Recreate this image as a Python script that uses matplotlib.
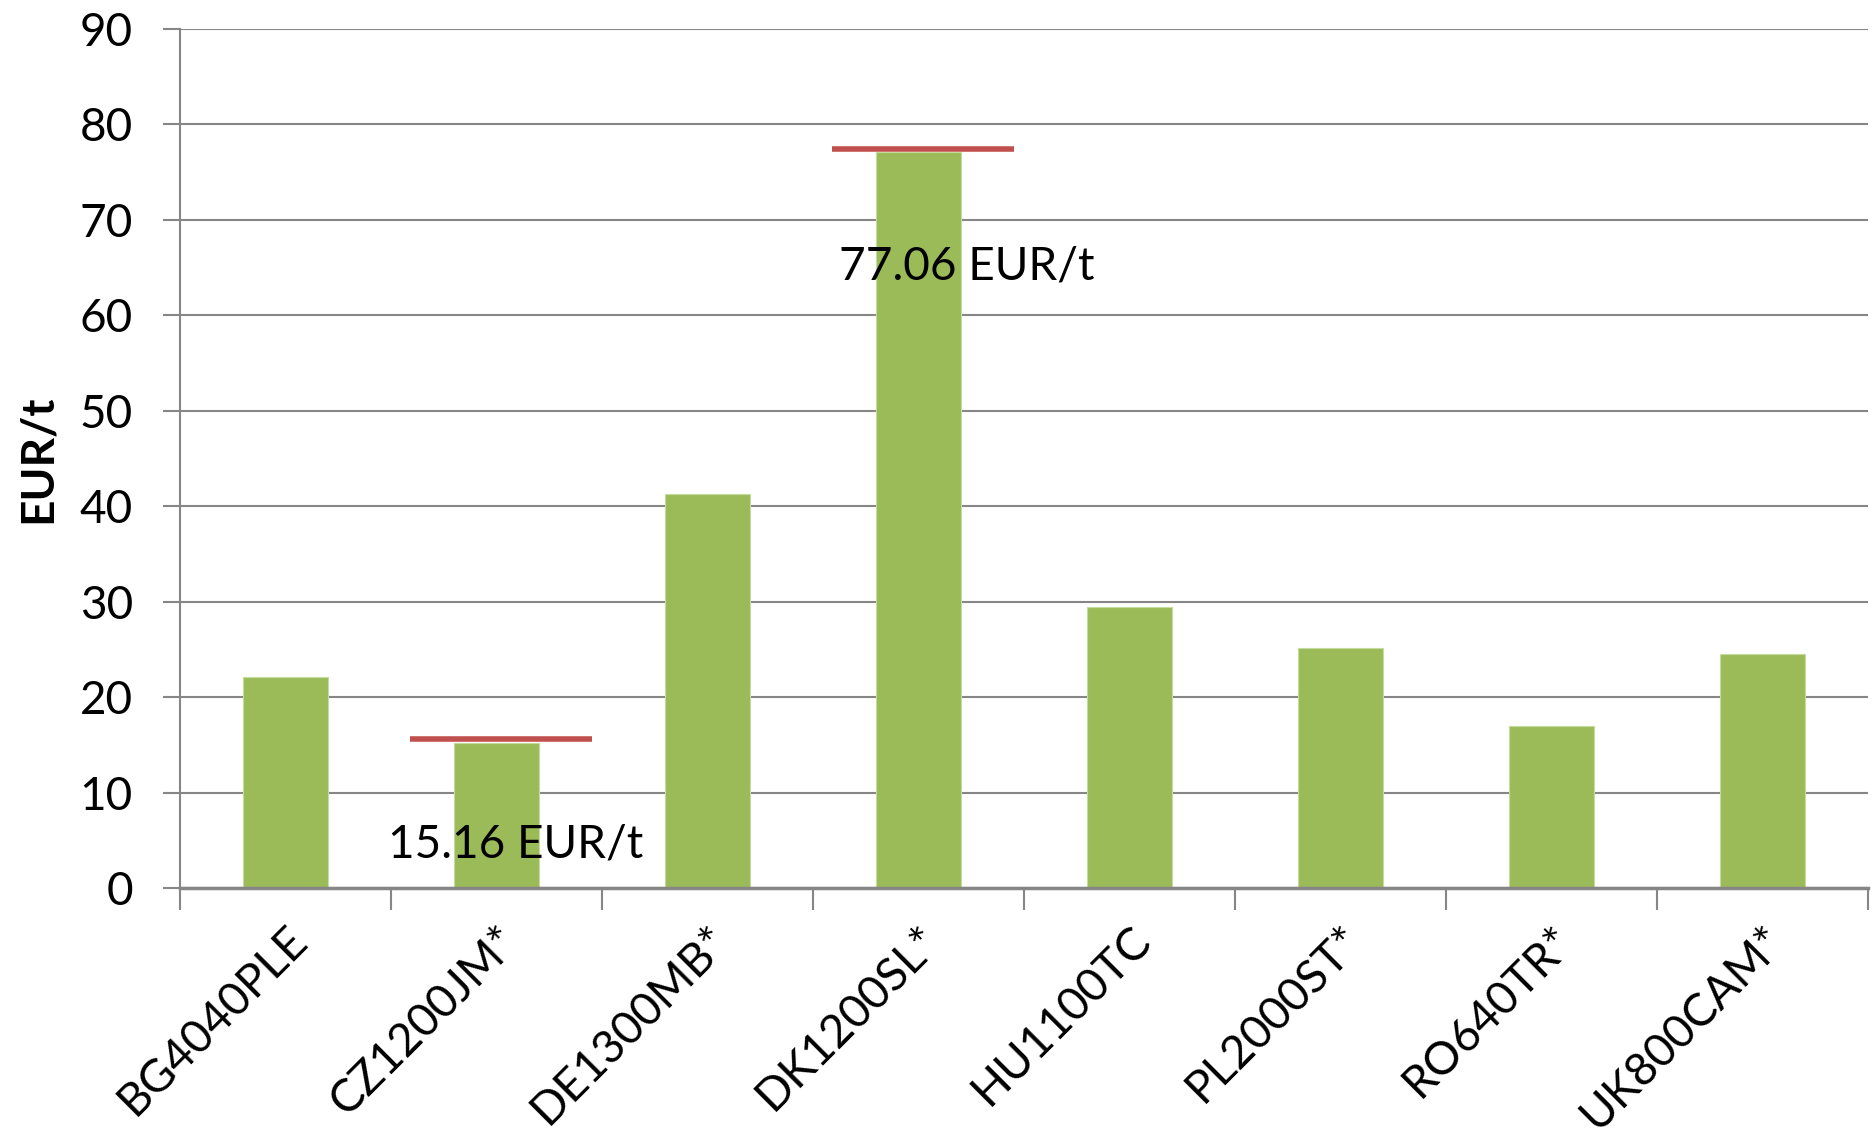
import matplotlib.pyplot as plt
import numpy as np

plt.rcParams["font.family"] = ["Lato", "DejaVu Sans"]

categories = ["BG4040PLE", "CZ1200JM*", "DE1300MB*", "DK1200SL*",
              "HU1100TC", "PL2000ST*", "RO640TR*", "UK800CAM*"]
values = [22.1, 15.16, 41.25, 77.06, 29.4, 25.1, 17.0, 24.5]

# red reference marks (category index, level, label)
ref_idx = [1, 3]
ref_levels = [15.6, 77.35]
ref_labels = ["15.16 EUR/t", "77.06 EUR/t"]
label_y = [4.6, 65.1]
label_dx = [0.09, 0.23]

yticks = list(range(0, 100, 10))

GREEN = "#9BBB59"
RED = "#C0504D"
GRID = "#868686"


def main():
    fig = plt.figure(figsize=(18.72, 11.48), dpi=100)
    ax = fig.add_axes([0.0962, 0.2265, 0.9017, 0.7485])

    x = np.arange(len(categories))
    ax.bar(x, values, width=0.4, color=GREEN, edgecolor="#C6DBA0",
           linewidth=0.8, zorder=2)

    for i, lvl in zip(ref_idx, ref_levels):
        ax.hlines(lvl, i - 0.41, i + 0.45, color=RED, linewidth=4, zorder=3)

    for i, txt, ty, dx in zip(ref_idx, ref_labels, label_y, label_dx):
        ax.text(i + dx, ty, txt, ha="center", va="center", fontsize=33,
                color="black", zorder=4)

    ax.set_xlim(-0.5, len(categories) - 0.5)
    ax.set_ylim(0, 90)
    ax.set_yticks(yticks)
    ax.set_yticklabels([str(t) for t in yticks], fontsize=33)
    ax.yaxis.grid(True, color=GRID, linewidth=1.5, zorder=0)
    ax.set_axisbelow(True)

    # labels at category centers, tick marks at boundaries
    ax.set_xticks(x)
    ax.set_xticklabels(categories, rotation=45, ha="right",
                       rotation_mode="anchor", fontsize=33)
    ax.tick_params(axis="x", which="major", length=0, pad=22)
    ax.set_xticks(np.arange(-0.5, len(categories)), minor=True)
    ax.tick_params(axis="x", which="minor", length=16, width=1.5, color=GRID)
    ax.tick_params(axis="y", length=12, width=1.5, color=GRID, pad=22)

    for side in ["top", "right"]:
        ax.spines[side].set_visible(False)
    ax.spines["left"].set_color(GRID)
    ax.spines["left"].set_linewidth(1.5)
    ax.spines["bottom"].set_color(GRID)
    ax.spines["bottom"].set_linewidth(2.5)

    ax.set_ylabel("EUR/t", fontsize=33, fontweight="bold", labelpad=15)

    fig.savefig("out.png", dpi=100)
    plt.close(fig)


if __name__ == "__main__":
    main()
